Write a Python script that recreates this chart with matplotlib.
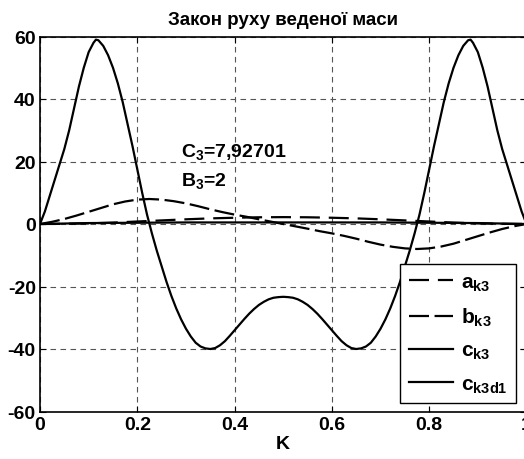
import numpy as np
import matplotlib
matplotlib.use("Agg")
import matplotlib.pyplot as plt

plt.rcParams['font.family'] = ['Liberation Sans', 'DejaVu Sans']
plt.rcParams['font.weight'] = 'bold'
plt.rcParams['axes.unicode_minus'] = False
plt.rcParams['mathtext.fontset'] = 'custom'
plt.rcParams['mathtext.rm'] = 'Liberation Sans:bold'
plt.rcParams['mathtext.bf'] = 'Liberation Sans:bold'
plt.rcParams['mathtext.default'] = 'bf'

# half of each curve (K = 0..0.5), the other half is mirrored
k_c = [0, 0.01, 0.02, 0.03, 0.04, 0.05, 0.06, 0.07, 0.08, 0.09, 0.10, 0.11, 0.115,
       0.12, 0.13, 0.14, 0.15, 0.16, 0.17, 0.18, 0.19, 0.20, 0.21, 0.22, 0.23, 0.24,
       0.25, 0.26, 0.27, 0.28, 0.29, 0.30, 0.31, 0.32, 0.33, 0.34, 0.35, 0.36, 0.37,
       0.38, 0.39, 0.40, 0.41, 0.42, 0.43, 0.44, 0.45, 0.46, 0.47, 0.48, 0.49, 0.50]
c_half = [0, 4, 9, 14, 19, 24, 30, 37, 44, 50, 55, 58, 59,
          58.8, 57, 54, 50, 45, 39, 32, 25, 17.5, 10, 3, -3, -8.5,
          -13.5, -18.5, -23, -27, -30.5, -33.5, -36, -38, -39.2, -39.8, -40, -39.7, -38.8,
          -37.5, -35.8, -34, -32.2, -30.4, -28.7, -27.2, -25.9, -24.9, -24.1, -23.6, -23.4, -23.3]

k_b = [0, 0.025, 0.05, 0.075, 0.1, 0.125, 0.15, 0.175, 0.2, 0.225, 0.25, 0.275, 0.3,
       0.325, 0.35, 0.375, 0.4, 0.425, 0.45, 0.475, 0.5]
b_half = [0, 0.7, 1.6, 2.7, 3.9, 5.1, 6.3, 7.2, 7.8, 8.0, 7.8, 7.3, 6.6,
          5.7, 4.7, 3.8, 3.0, 2.3, 1.5, 0.75, 0]

k_a = [0, 0.05, 0.1, 0.15, 0.2, 0.25, 0.3, 0.35, 0.4, 0.45, 0.5]
a_half = [0, 0.05, 0.2, 0.45, 0.8, 1.15, 1.5, 1.8, 2.0, 2.15, 2.2]

k_d = [0, 0.1, 0.2, 0.3, 0.4, 0.5, 0.6, 0.7, 0.8, 0.9, 1.0]
c_d = [0, 0.3, 0.4, 0.5, 0.5, 0.5, 0.5, 0.5, 0.4, 0.3, 0]

def mirror(k, v, sign):
    k = np.array(k); v = np.array(v)
    kk = np.concatenate([k, 1 - k[-2::-1]])
    vv = np.concatenate([v, sign * v[-2::-1]])
    return kk, vv

kc, c_k3 = mirror(k_c, c_half, 1)
kb, b_k3 = mirror(k_b, b_half, -1)
ka, a_k3 = mirror(k_a, a_half, 1)

fig = plt.figure(figsize=(5.24, 4.6), dpi=100)
ax = fig.add_axes([40/524, 47.5/460, 486.5/524, 375/460])

ax.plot(ka, a_k3, 'k', lw=1.6, dashes=(9, 4), label=r'$a_{k3}$')
ax.plot(kb, b_k3, 'k', lw=1.6, dashes=(9, 2.5), label=r'$b_{k3}$')
ax.plot(kc, c_k3, 'k', lw=1.6, label=r'$c_{k3}$')
ax.plot(k_d, c_d, 'k', lw=1.6, label=r'$c_{k3d1}$')

ax.set_xlim(0, 1)
ax.set_ylim(-60, 60)
ax.set_xticks([0, 0.2, 0.4, 0.6, 0.8, 1])
ax.set_xticklabels(['0', '0.2', '0.4', '0.6', '0.8', '1'])
ax.set_yticks([-60, -40, -20, 0, 20, 40, 60])
ax.tick_params(direction='in', labelsize=14, top=True, right=True, length=4, pad=3)
ax.grid(True, color='#555555', linestyle=(0, (5, 4)), lw=0.8)
for s in ax.spines.values():
    s.set_linewidth(1.2)

ax.set_title('Закон руху веденої маси', fontsize=13.5, fontweight='bold', pad=9)
ax.set_xlabel('K', fontsize=14, fontweight='bold', labelpad=2)

ax.text(0.29, 23.5, r'$C_3$=7,92701', fontsize=14, va='center', ha='left')
ax.text(0.29, 14, r'$B_3$=2', fontsize=14, va='center', ha='left')

leg = ax.legend(loc='lower right', bbox_to_anchor=(0.978, 0.023), borderaxespad=0,
                fancybox=False, edgecolor='black', framealpha=1, fontsize=15,
                handlelength=2.1, labelspacing=0.62, handletextpad=0.4,
                borderpad=0.4)
leg.get_frame().set_linewidth(1.0)

fig.savefig('out.png', dpi=100)
